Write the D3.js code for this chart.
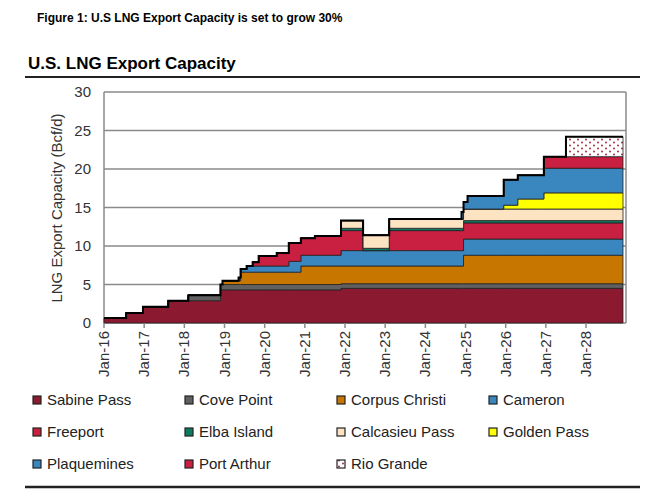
<!DOCTYPE html>
<html><head><meta charset="utf-8">
<script src="https://cdn.jsdelivr.net/npm/d3@7"></script>
<style>body{margin:0;background:#fff}svg{font-family:"Liberation Sans",Arial,sans-serif}</style>
</head><body><div id="chart"></div>
<script>
// step breakpoints: [year, capacity Bcf/d]
var sabinePass  = [[2016.0,0.65],[2016.55,1.3],[2016.97,2.1],[2017.6,2.9],[2018.9,4.3],[2021.9,4.5]];
var covePoint   = [[2018.1,0.7],[2021.9,0.6]];
var corpus      = [[2018.95,0.5],[2019.4,1.6],[2020.9,2.4],[2021.9,2.3],[2024.95,3.7]];
var cameron     = [[2019.35,0.4],[2019.55,0.8],[2020.6,1.4],[2021.9,2.0],[2024.95,2.1]];
var freeport    = [[2019.7,0.5],[2019.85,1.3],[2020.3,1.7],[2020.6,2.4],[2020.9,2.2],[2021.25,2.5],[2021.9,2.6],[2022.45,0],[2023.1,2.6],[2024.95,2.1]];
var elba        = [[2021.9,0.3]];
var calcasieu   = [[2021.9,1.0],[2022.45,1.7],[2023.1,1.2],[2024.95,1.5]];
var goldenPass  = [[2025.95,0.5],[2026.3,1.3],[2026.95,2.1]];
var plaquemines = [[2024.9,0.9],[2025.05,1.7],[2025.95,3.3],[2026.3,3.1],[2026.95,3.2]];
var portArthur  = [[2026.95,1.5]];
var rioGrande   = [[2027.5,2.6]];
var endYear = 2028.92;

var names = ["Sabine Pass","Cove Point","Corpus Christi","Cameron","Freeport","Elba Island","Calcasieu Pass","Golden Pass","Plaquemines","Port Arthur","Rio Grande"];
var series = [sabinePass,covePoint,corpus,cameron,freeport,elba,calcasieu,goldenPass,plaquemines,portArthur,rioGrande];
var colors = ["#8B1A30","#606060","#C77700","#3A86BF","#C91F40","#0F7A64","#FCE3C2","#FFFF00","#3A86BF","#C91F40","url(#dots)"];
var yTicks = [0,5,10,15,20,25,30];
var xTickLabels = ["Jan-16","Jan-17","Jan-18","Jan-19","Jan-20","Jan-21","Jan-22","Jan-23","Jan-24","Jan-25","Jan-26","Jan-27","Jan-28"];

var dates = Array.from(new Set(series.flat().map(d=>d[0]).concat([endYear]))).sort((a,b)=>a-b);
function valueAt(s, t){ var v=0; s.forEach(d=>{ if(d[0]<=t) v=d[1]; }); return v; }
var table = dates.map(t=>{ var o={t:t}; names.forEach((n,i)=>o[n]=valueAt(series[i],t)); return o; });
var stacked = d3.stack().keys(names)(table);

var svg = d3.select("#chart").append("svg").attr("width",664).attr("height",500);
var pat = svg.append("defs").append("pattern").attr("id","dots").attr("patternUnits","userSpaceOnUse").attr("width",8).attr("height",6);
pat.append("rect").attr("width",8).attr("height",6).attr("fill","#fff");
pat.append("circle").attr("cx",2).attr("cy",1.5).attr("r",0.9).attr("fill","#A01830");
pat.append("circle").attr("cx",6).attr("cy",4.5).attr("r",0.9).attr("fill","#A01830");

svg.append("text").attr("x",37).attr("y",22).attr("font-size",12).attr("font-weight","bold").text("Figure 1: U.S LNG Export Capacity is set to grow 30%");
svg.append("text").attr("x",28).attr("y",69).attr("font-size",17).attr("font-weight","bold").text("U.S. LNG Export Capacity");
svg.append("line").attr("x1",25).attr("x2",640).attr("y1",77).attr("y2",77).attr("stroke","#222").attr("stroke-width",2);
svg.append("line").attr("x1",25).attr("x2",640).attr("y1",487).attr("y2",487).attr("stroke","#222").attr("stroke-width",2.5);

var x = d3.scaleLinear().domain([2016,endYear]).range([104,623]);
var y = d3.scaleLinear().domain([0,30]).range([323,92]);

var g = svg.append("g");
g.selectAll(".grid").data(yTicks).enter().append("line")
  .attr("x1",104).attr("x2",626).attr("y1",d=>y(d)).attr("y2",d=>y(d))
  .attr("stroke","#8a8a8a").attr("stroke-width",1.5);
g.append("line").attr("x1",104).attr("x2",104).attr("y1",92).attr("y2",323).attr("stroke","#8a8a8a").attr("stroke-width",1.5);
g.append("line").attr("x1",626).attr("x2",626).attr("y1",92).attr("y2",323).attr("stroke","#8a8a8a").attr("stroke-width",1.5);

var area = d3.area().curve(d3.curveStepAfter).x(d=>x(d.data.t)).y0(d=>y(d[0])).y1(d=>y(d[1]));
g.selectAll(".layer").data(stacked).enter().append("path")
  .attr("d",area).attr("fill",(d,i)=>colors[i]).attr("stroke","#222").attr("stroke-width",0.8);
var topLine = d3.line().curve(d3.curveStepAfter).x(d=>x(d.data.t)).y(d=>y(d[1]));
g.append("path").attr("d",topLine(stacked[stacked.length-1])).attr("fill","none").attr("stroke","#000").attr("stroke-width",2);

g.selectAll(".yl").data(yTicks).enter().append("text")
  .attr("x",91).attr("y",d=>y(d)+5).attr("text-anchor","end").attr("font-size",15).attr("fill","#333").text(d=>d);
svg.append("text").attr("transform","translate(62,208) rotate(-90)").attr("text-anchor","middle")
  .attr("font-size",15).attr("fill","#333").text("LNG Export Capacity  (Bcf/d)");

var xt = g.selectAll(".xt").data(xTickLabels).enter().append("g")
  .attr("transform",(d,i)=>"translate("+x(2016+i)+",323)");
xt.append("line").attr("y2",5).attr("stroke","#8a8a8a").attr("stroke-width",1.5);
xt.append("text").attr("transform","rotate(-90)").attr("x",-8).attr("y",5).attr("text-anchor","end")
  .attr("font-size",15).attr("fill","#333").text(d=>d);

var leg = svg.selectAll(".leg").data(names).enter().append("g")
  .attr("transform",(d,i)=>"translate("+(33+(i%4)*152)+","+(401+Math.floor(i/4)*32)+")");
leg.append("rect").attr("x",0).attr("y",-5).attr("width",8).attr("height",8)
  .attr("fill",(d,i)=>colors[i]).attr("stroke","#222").attr("stroke-width",1.2);
leg.append("text").attr("x",14).attr("y",4).attr("font-size",15).attr("fill","#222").text(d=>d);
</script></body></html>
